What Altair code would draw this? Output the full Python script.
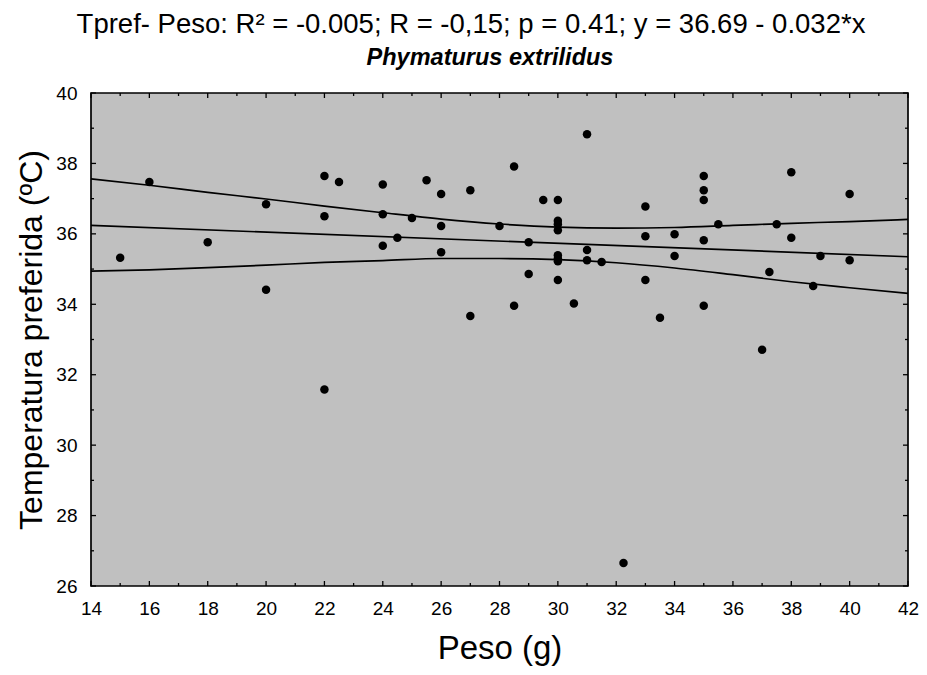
import altair as alt
import pandas as pd

# ---- data ----
peso = [15, 16, 18, 20, 20, 22, 22, 22, 22.5, 24, 24, 24, 24.5, 25, 25.5,
        26, 26, 26, 27, 27, 28, 28.5, 28.5, 29, 29, 29.5,
        30, 30, 30, 30, 30, 30, 30, 30, 30.55, 31, 31, 31, 31.5, 32.25,
        33, 33, 33, 33.5, 34, 34, 35, 35, 35, 35, 35, 35.5, 37, 37.25, 37.5,
        38, 38, 38.75, 39, 40, 40]
tpref = [35.32, 37.47, 35.76, 36.84, 34.41, 37.64, 36.50, 31.58, 37.47,
         37.40, 36.56, 35.66, 35.89, 36.45, 37.52, 37.13, 36.22, 35.48,
         37.24, 33.67, 36.22, 37.91, 33.96, 35.76, 34.86, 36.96,
         36.96, 36.37, 36.27, 36.10, 35.39, 35.30, 35.22, 34.69,
         34.02, 38.83, 35.54, 35.25, 35.20, 26.65,
         36.78, 35.93, 34.69, 33.62, 35.99, 35.37,
         37.64, 37.24, 36.96, 35.82, 33.96, 36.27, 32.71, 34.92, 36.27,
         37.75, 35.89, 34.52, 35.37, 37.13, 35.25]

fit_x = [14, 42]
fit_y = [36.24, 35.35]

band_x = [14, 16, 18, 20, 22, 24, 26, 28, 30, 32, 34, 36, 38, 40, 42]
upper = [37.56, 37.38, 37.18, 36.99, 36.79, 36.60, 36.42, 36.28, 36.19,
         36.16, 36.18, 36.24, 36.30, 36.35, 36.41]
lower = [34.94, 34.98, 35.04, 35.11, 35.19, 35.24, 35.30, 35.30, 35.27,
         35.18, 35.03, 34.84, 34.64, 34.47, 34.31]

x_ticks = list(range(14, 43))
y_ticks = list(range(26, 41))
x_labels = list(range(14, 43, 2))
y_labels = list(range(26, 41, 2))

title1 = "Tpref- Peso: R² = -0.005; R = -0,15; p = 0.41; y = 36.69 - 0.032*x"
title2 = "Phymaturus extrilidus"
x_title = "Peso (g)"
y_title = "Temperatura preferida (ºC)"

# ---- layout ----
W, H = 817, 493
FONT = "Liberation Sans"

xs = alt.Scale(domain=[14, 42], nice=False, zero=False)
ys = alt.Scale(domain=[26, 40], nice=False, zero=False)

pts = pd.DataFrame({"x": peso, "y": tpref})
fit = pd.DataFrame({"x": fit_x, "y": fit_y})
band = pd.DataFrame({"x": band_x * 2, "y": upper + lower,
                     "s": ["upper"] * len(band_x) + ["lower"] * len(band_x)})

xt = pd.DataFrame({"v": x_ticks, "major": [v % 2 == 0 for v in x_ticks]})
yt = pd.DataFrame({"v": y_ticks, "major": [v % 2 == 0 for v in y_ticks]})

x_axis = alt.Axis(values=x_labels, title=x_title, ticks=False, grid=False,
                  domain=False, labelFontSize=19, labelFont=FONT,
                  labelColor="black", labelPadding=13, labelFlush=False,
                  titleFontSize=33, titleFont=FONT, titleFontWeight="normal",
                  titleColor="black", titlePadding=14)
y_axis = alt.Axis(values=y_labels, title=y_title, ticks=False, grid=False,
                  domain=False, labelFontSize=19, labelFont=FONT,
                  labelColor="black", labelPadding=14, labelFlush=False,
                  titleFontSize=32, titleFont=FONT, titleFontWeight="normal",
                  titleColor="black", titlePadding=7)

points = alt.Chart(pts).mark_circle(size=72, color="black", opacity=1).encode(
    x=alt.X("x:Q", scale=xs, axis=x_axis),
    y=alt.Y("y:Q", scale=ys, axis=y_axis),
)

fit_line = alt.Chart(fit).mark_line(color="black", strokeWidth=1.7).encode(
    x=alt.X("x:Q", scale=xs), y=alt.Y("y:Q", scale=ys))

band_lines = alt.Chart(band).mark_line(color="black", strokeWidth=1.7,
                                       interpolate="monotone").encode(
    x=alt.X("x:Q", scale=xs), y=alt.Y("y:Q", scale=ys), detail="s:N")


def xticks(y0, y1, major):
    d = xt[xt.major == major]
    return alt.Chart(d).mark_rule(color="black", strokeWidth=1.3).encode(
        x=alt.X("v:Q", scale=xs), y=alt.value(y0), y2=alt.value(y1))


def yticks(x0, x1, major):
    d = yt[yt.major == major]
    return alt.Chart(d).mark_rule(color="black", strokeWidth=1.3).encode(
        y=alt.Y("v:Q", scale=ys), x=alt.value(x0), x2=alt.value(x1))


ticks = [
    xticks(H, H - 5, True), xticks(H, H - 3, False),
    xticks(0, 5, True), xticks(0, 3, False),
    yticks(0, 5, True), yticks(0, 3, False),
    yticks(W, W - 5, True), yticks(W, W - 3, False),
]

t1 = alt.Chart(pd.DataFrame({"t": [title1]})).mark_text(
    font=FONT, fontSize=27.5, color="black", align="center",
    baseline="alphabetic").encode(text="t:N", x=alt.value(380), y=alt.value(-60))
t2 = alt.Chart(pd.DataFrame({"t": [title2]})).mark_text(
    font=FONT, fontSize=23.5, fontWeight="bold", fontStyle="italic",
    color="black", align="center", baseline="alphabetic").encode(
    text="t:N", x=alt.value(399), y=alt.value(-28))

chart = alt.layer(points, band_lines, fit_line, *ticks, t1, t2).properties(
    width=W, height=H,
    autosize=alt.AutoSizeParams(type="none"),
    padding={"left": 83, "top": 85, "right": 11, "bottom": 86},
    background="white",
).configure_view(fill="#C0C0C0", stroke="black", strokeWidth=1.7)

chart.save("out.html", embed_options={"renderer": "svg", "actions": False})
